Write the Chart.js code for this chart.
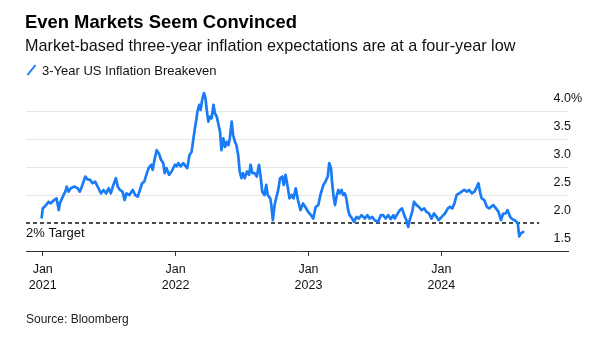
<!DOCTYPE html>
<html><head><meta charset="utf-8">
<script src="https://cdn.jsdelivr.net/npm/chart.js@4.4.1/dist/chart.umd.min.js"></script>
<style>
html,body{margin:0;padding:0;background:#fff;}
#wrap{position:relative;width:604px;height:340px;overflow:hidden;font-family:"Liberation Sans",Arial,sans-serif;color:#000;}
#wrap .t{position:absolute;white-space:nowrap;}
canvas{position:absolute;left:0;top:0;}
</style></head><body>
<div id="wrap">
<canvas id="c" width="604" height="340"></canvas>
<div class="t" style="left:25px;top:13px;font-size:18.4px;line-height:18px;font-weight:bold;">Even Markets Seem Convinced</div>
<div class="t" style="left:25px;top:37px;font-size:16.2px;line-height:16px;color:#111;">Market-based three-year inflation expectations are at a four-year low</div>
<svg style="position:absolute;left:26px;top:64px;" width="11" height="12"><line x1="1.5" y1="11" x2="9.5" y2="1" stroke="#1a7cf5" stroke-width="2"/></svg>
<div class="t" style="left:42px;top:64px;font-size:13px;line-height:13px;color:#111;">3-Year US Inflation Breakeven</div>
<div class="t" style="left:26px;top:313px;font-size:12px;line-height:12px;color:#222;">Source: Bloomberg</div>
</div>
<script>
const dates = [
"2020-12-29","2021-01-01","2021-01-10","2021-01-17","2021-01-23","2021-02-01","2021-02-08","2021-02-14","2021-02-17","2021-02-25",
"2021-03-04","2021-03-08","2021-03-13","2021-03-19","2021-03-28","2021-04-07","2021-04-13","2021-04-20","2021-04-28","2021-05-04",
"2021-05-11","2021-05-18","2021-05-25","2021-06-03","2021-06-10","2021-06-17","2021-06-24","2021-07-01","2021-07-07","2021-07-14",
"2021-07-21","2021-07-26","2021-08-01","2021-08-08","2021-08-14","2021-08-19","2021-08-27","2021-09-05","2021-09-12","2021-09-19",
"2021-09-25","2021-10-01","2021-10-07","2021-10-14","2021-10-19","2021-10-26","2021-10-30","2021-11-04","2021-11-10","2021-11-16",
"2021-11-22","2021-11-28","2021-12-02","2021-12-07","2021-12-14","2021-12-21","2021-12-30","2022-01-04","2022-01-08","2022-01-15",
"2022-01-22","2022-01-29","2022-02-02","2022-02-08","2022-02-14","2022-02-19","2022-02-23","2022-02-26","2022-03-02","2022-03-07",
"2022-03-11","2022-03-15","2022-03-20","2022-03-24","2022-03-28","2022-04-01","2022-04-06","2022-04-10","2022-04-15","2022-04-19",
"2022-04-24","2022-04-28","2022-05-03","2022-05-07","2022-05-12","2022-05-17","2022-05-21","2022-05-26","2022-05-30","2022-06-04",
"2022-06-08","2022-06-13","2022-06-17","2022-06-22","2022-06-26","2022-07-01","2022-07-05","2022-07-10","2022-07-16","2022-07-22",
"2022-07-26","2022-07-31","2022-08-06","2022-08-12","2022-08-18","2022-08-22","2022-08-27","2022-09-02","2022-09-07","2022-09-11",
"2022-09-18","2022-09-21","2022-09-25","2022-09-30","2022-10-04","2022-10-09","2022-10-15","2022-10-21","2022-10-25","2022-10-30",
"2022-11-04","2022-11-10","2022-11-16","2022-11-21","2022-11-27","2022-12-03","2022-12-10","2022-12-17","2022-12-23","2022-12-31",
"2023-01-08","2023-01-14","2023-01-21","2023-01-28","2023-02-04","2023-02-11","2023-02-17","2023-02-23","2023-02-27","2023-03-04",
"2023-03-07","2023-03-11","2023-03-15","2023-03-19","2023-03-24","2023-03-28","2023-04-02","2023-04-06","2023-04-11","2023-04-15",
"2023-04-20","2023-04-24","2023-05-01","2023-05-06","2023-05-13","2023-05-19","2023-05-27","2023-06-05","2023-06-12","2023-06-18",
"2023-06-25","2023-07-02","2023-07-11","2023-07-19","2023-07-25","2023-08-01","2023-08-08","2023-08-15","2023-08-22","2023-08-26",
"2023-09-03","2023-09-09","2023-09-15","2023-09-21","2023-09-27","2023-10-02","2023-10-06","2023-10-13","2023-10-18","2023-10-25",
"2023-10-31","2023-11-08","2023-11-15","2023-11-21","2023-11-28","2023-12-05","2023-12-12","2023-12-19","2023-12-25","2024-01-02",
"2024-01-11","2024-01-19","2024-01-25","2024-01-31","2024-02-06","2024-02-12","2024-02-19","2024-02-26","2024-03-04","2024-03-11",
"2024-03-17","2024-03-25","2024-04-01","2024-04-08","2024-04-12","2024-04-17","2024-04-21","2024-04-28","2024-05-05","2024-05-11",
"2024-05-17","2024-05-23","2024-05-30","2024-06-06","2024-06-13","2024-06-19","2024-06-26","2024-07-01","2024-07-08","2024-07-14",
"2024-07-22","2024-07-29","2024-08-02","2024-08-07","2024-08-13"
];
const breakeven = [
2.10,2.26,2.32,2.38,2.35,2.41,2.44,2.23,2.35,2.47,
2.56,2.65,2.56,2.62,2.65,2.62,2.56,2.68,2.83,2.78,
2.77,2.71,2.74,2.62,2.53,2.59,2.53,2.62,2.53,2.68,
2.80,2.65,2.59,2.56,2.41,2.53,2.50,2.59,2.50,2.47,
2.59,2.71,2.74,2.89,2.98,3.04,2.95,3.13,3.30,3.24,
3.13,3.07,2.89,2.98,2.86,2.92,3.04,3.01,3.07,3.01,
3.07,3.01,2.98,3.21,3.27,3.51,3.69,3.81,3.99,4.11,
4.02,4.20,4.32,4.23,3.99,3.81,3.90,3.87,4.11,3.96,
3.90,3.78,3.63,3.30,3.51,3.36,3.45,3.39,3.51,3.81,
3.57,3.45,3.39,3.21,2.92,2.80,2.89,2.80,2.92,2.86,
3.04,2.89,2.89,2.83,3.04,2.86,2.56,2.50,2.68,2.50,
2.44,2.32,2.05,2.32,2.44,2.56,2.80,2.83,2.68,2.86,
2.68,2.44,2.50,2.44,2.62,2.41,2.23,2.35,2.29,2.20,
2.14,2.08,2.29,2.32,2.53,2.68,2.74,2.83,3.07,2.98,
2.71,2.47,2.32,2.47,2.59,2.53,2.59,2.50,2.53,2.44,
2.23,2.14,2.08,2.02,2.11,2.08,2.14,2.08,2.14,2.08,
2.11,2.05,2.02,2.14,2.14,2.08,2.14,2.07,2.14,2.08,
2.17,2.23,2.26,2.14,2.05,1.93,2.05,2.20,2.38,2.32,
2.29,2.23,2.26,2.20,2.17,2.08,2.17,2.11,2.05,2.11,
2.17,2.26,2.29,2.26,2.35,2.50,2.53,2.56,2.59,2.56,
2.59,2.53,2.56,2.65,2.71,2.53,2.44,2.41,2.29,2.26,
2.29,2.32,2.26,2.20,2.05,2.17,2.17,2.23,2.11,2.07,
2.04,2.00,1.76,1.82,1.84
];
const xTickYears = [2021, 2022, 2023, 2024];
const xTickMonth = "Jan";
const yTicks = [1.5, 2.0, 2.5, 3.0, 3.5, 4.0];
const xRange = ["2020-11-16", "2024-12-14"];
const yRange = [1.5, 4.5];
const targetValue = 2.0;
const targetLabel = "2% Target";
const targetEnd = "2024-09-26";

const BLUE = "#1a7cf5";
const FONT = '"Liberation Sans", Arial, sans-serif';
const toMs = s => { const p = s.split("-").map(Number); return Date.UTC(p[0], p[1] - 1, p[2]); };

Chart.defaults.font.family = FONT;

const targetLabelPlugin = {
  id: "targetLabel",
  afterDatasetsDraw(chart) {
    const { ctx, chartArea, scales } = chart;
    const py = scales.y.getPixelForValue(targetValue);
    ctx.save();
    ctx.font = "13px " + FONT;
    ctx.fillStyle = "#111";
    ctx.textAlign = "left";
    ctx.textBaseline = "middle";
    ctx.fillText(targetLabel, chartArea.left, py + 10);
    ctx.restore();
  }
};

new Chart(document.getElementById("c"), {
  type: "line",
  data: {
    datasets: [
      {
        label: "3-Year US Inflation Breakeven",
        data: dates.map((d, i) => ({ x: toMs(d), y: breakeven[i] })),
        borderColor: BLUE, borderWidth: 2.7, pointRadius: 0, tension: 0,
        borderJoinStyle: "round", borderCapStyle: "round", fill: false
      },
      {
        label: targetLabel,
        data: [{ x: toMs(xRange[0]), y: targetValue }, { x: toMs(targetEnd), y: targetValue }],
        borderColor: "#111", borderWidth: 1.5, borderDash: [4, 3], pointRadius: 0, fill: false
      }
    ]
  },
  options: {
    responsive: false, animation: false, devicePixelRatio: 1,
    layout: { padding: { left: 26, right: 8, top: 83, bottom: 40 } },
    plugins: { legend: { display: false }, tooltip: { enabled: false } },
    scales: {
      x: {
        type: "linear", min: toMs(xRange[0]), max: toMs(xRange[1]),
        afterBuildTicks: s => { s.ticks = xTickYears.map(y => ({ value: Date.UTC(y, 0, 1) })); },
        grid: { display: true, drawOnChartArea: false, drawTicks: true, tickLength: 5, color: "#333", lineWidth: 1 },
        border: { display: true, color: "#333", width: 1 },
        ticks: {
          padding: 6, maxRotation: 0, autoSkip: false, color: "#111",
          font: { size: 12.5, lineHeight: "16px" },
          callback: v => [xTickMonth, String(new Date(v).getUTCFullYear())]
        }
      },
      y: {
        type: "linear", position: "right", min: yRange[0], max: yRange[1],
        afterBuildTicks: s => { s.ticks = yTicks.map(v => ({ value: v })); },
        grid: {
          drawTicks: false, lineWidth: 1,
          color: c => (c.tick && Math.abs(c.tick.value - targetValue) < 1e-9) ? "rgba(0,0,0,0)" : "#e6e6e6"
        },
        border: { display: false },
        ticks: {
          mirror: true, crossAlign: "far", padding: 14, labelOffset: -12, color: "#111",
          font: { size: 12.5 },
          callback: v => Math.abs(v - 4) < 1e-9 ? "4.0%" : v.toFixed(1)
        }
      }
    }
  },
  plugins: [targetLabelPlugin]
});
</script>
</body></html>
